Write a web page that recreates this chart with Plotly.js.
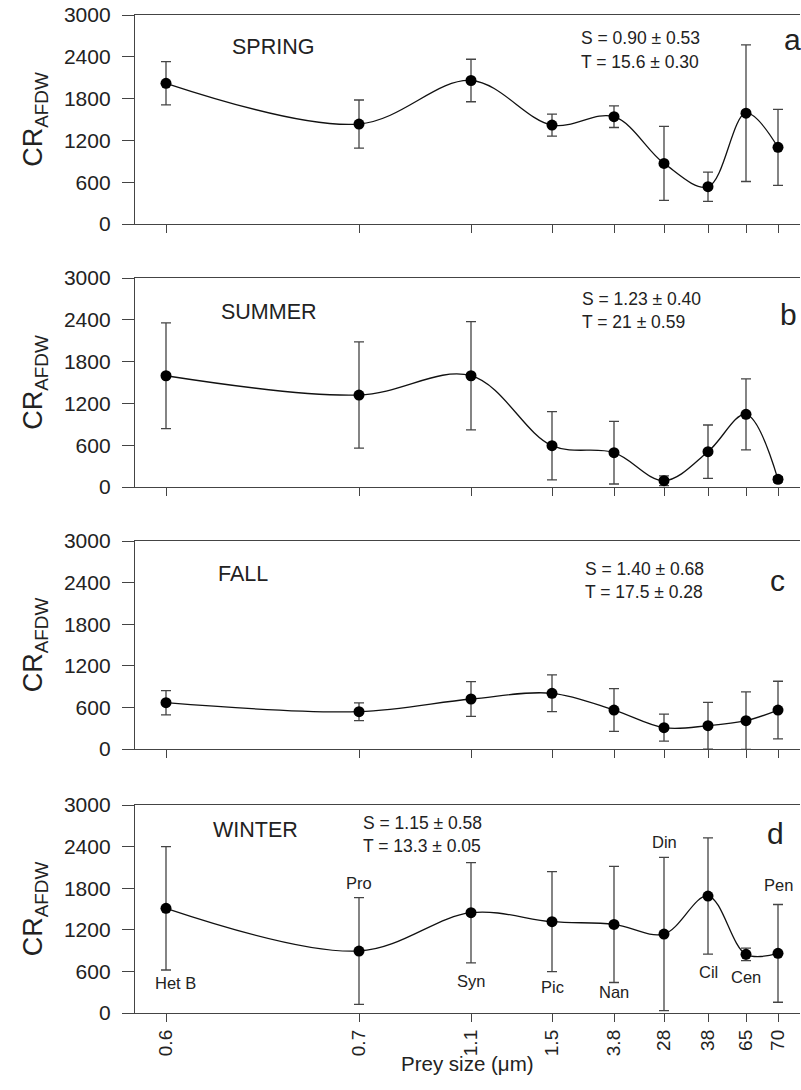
<!DOCTYPE html>
<html><head><meta charset="utf-8">
<script src="https://cdn.plot.ly/plotly-3.0.1.min.js"></script>
<style>html,body{margin:0;padding:0;background:#fff}#chart{width:801px;height:1090px}</style>
</head><body><div id="chart"></div>
<script>
// Prey size classes (irregularly spaced on the original axis)
const preySize = ['0.6','0.7','1.1','1.5','3.8','28','38','65','70'];
const xPos = [31,224,336,417,479,529,573,611,643];
const preyGroup = ['Het B','Pro','Syn','Pic','Nan','Din','Cil','Cen','Pen'];
const groupLabelY = [433,1875,461,375,303,2466,591,519,1846];
const groupLabelDx = [9,0,0,0,0,0,0,0,0];

const seasons = ['SPRING','SUMMER','FALL','WINTER'];
const panelLetter = ['a','b','c','d'];
const salinity = ['S = 0.90 ± 0.53','S = 1.23 ± 0.40','S = 1.40 ± 0.68','S = 1.15 ± 0.58'];
const temperature = ['T = 15.6 ± 0.30','T = 21 ± 0.59','T = 17.5 ± 0.28','T = 13.3 ± 0.05'];

const springCR = [2020,1435,2060,1420,1540,870,535,1590,1100];
const springSD = [310,345,305,158,155,530,210,980,545];
const summerCR = [1597,1320,1597,593,493,91,507,1043,110];
const summerSD = [758,763,777,490,450,70,383,510,40];
const fallCR = [668,538,721,803,562,308,336,408,562];
const fallSD = [175,128,250,265,308,195,337,415,415];
const winterCR = [1510,894,1447,1317,1278,1139,1687,846,860];
const winterSD = [890,770,723,721,838,1105,839,90,705];

const yTicks = [0,600,1200,1800,2400,3000];

const seriesCR = [springCR, summerCR, fallCR, winterCR];
const seriesSD = [springSD, summerSD, fallSD, winterSD];

// page geometry
const W = 801, H = 1090, L = 135, R = 1, T = 15, B = 77;
const plotW = W - L - R, plotH = H - T - B;
const px = x => (x - L) / plotW;
const py = y => (H - B - y) / plotH;
const panelPx = [[15,224],[278,487],[541,749],[805,1013]];

const font = '"Liberation Sans", Arial, sans-serif';
const ink = '#222';

const traces = seriesCR.map((cr, i) => ({
  type: 'scatter', mode: 'lines+markers',
  x: xPos, y: cr,
  xaxis: 'x' + (i ? i + 1 : ''), yaxis: 'y' + (i ? i + 1 : ''),
  line: {shape: 'spline', smoothing: 1, color: '#111', width: 1.3},
  marker: {color: '#000', size: 11},
  error_y: {type: 'data', array: seriesSD[i], visible: true, color: '#444', thickness: 1.3, width: 5},
  cliponaxis: false,
  hoverinfo: 'skip', showlegend: false
}));

const layout = {
  width: W, height: H,
  margin: {l: L, r: R, t: T, b: B},
  paper_bgcolor: '#fff', plot_bgcolor: '#fff',
  font: {family: font, color: ink},
  showlegend: false,
  annotations: []
};

for (let i = 0; i < 4; i++) {
  const s = i ? String(i + 1) : '';
  const last = i === 3;
  layout['xaxis' + s] = {
    domain: [0, 1], anchor: 'y' + s, range: [0, plotW],
    tickmode: 'array', tickvals: xPos, ticktext: preySize,
    showticklabels: last, tickangle: -90,
    ticks: 'outside', ticklen: 8, tickcolor: '#444', tickwidth: 1,
    tickfont: {size: 19, color: ink, family: font},
    showline: true, linecolor: '#444', linewidth: 1.2, mirror: true,
    showgrid: false, zeroline: false
  };
  layout['yaxis' + s] = {
    domain: [py(panelPx[i][1]), py(panelPx[i][0])], anchor: 'x' + s,
    range: [0, 3000], tickmode: 'array', tickvals: yTicks,
    ticks: 'outside', ticklen: 12, tickcolor: '#444', tickwidth: 1,
    ticklabelstandoff: 7,
    tickfont: {size: 21, color: ink, family: font},
    showline: true, linecolor: '#444', linewidth: 1.2,
    showgrid: false, zeroline: false,
    title: {text: 'CR<sub>AFDW</sub>', font: {size: 27, color: ink, family: font}, standoff: 13}
  };
}

const seasonX = [273,269,243,255], seasonY = [47,312,574,830];
const statX = [579,580,583,361], statSY = [38,299,569,823], statTY = [62,322,592,846];
const letterX = [792,788,777,775], letterY = [40,315,580,833];

for (let i = 0; i < 4; i++) {
  layout.annotations.push({xref:'paper', yref:'paper', x: px(seasonX[i]), y: py(seasonY[i]),
    text: seasons[i], showarrow:false, xanchor:'center', yanchor:'middle', font:{size:21.5, color:ink}});
  layout.annotations.push({xref:'paper', yref:'paper', x: px(statX[i]), y: py(statSY[i]),
    text: salinity[i], showarrow:false, xanchor:'left', yanchor:'middle', font:{size:17.5, color:ink}});
  layout.annotations.push({xref:'paper', yref:'paper', x: px(statX[i]), y: py(statTY[i]),
    text: temperature[i], showarrow:false, xanchor:'left', yanchor:'middle', font:{size:17.5, color:ink}});
  layout.annotations.push({xref:'paper', yref:'paper', x: px(letterX[i]), y: py(letterY[i]),
    text: panelLetter[i], showarrow:false, xanchor:'center', yanchor:'middle', font:{size:30, color:ink}});
}
preyGroup.forEach((g, j) => {
  layout.annotations.push({xref:'x4', yref:'y4', x: xPos[j] + groupLabelDx[j], y: groupLabelY[j],
    text: g, showarrow:false, xanchor:'center', yanchor:'middle', font:{size:16.5, color:ink}});
});
// x-axis title
layout.annotations.push({xref:'paper', yref:'paper', x: px(467), y: py(1063),
  text: 'Prey size (μm)', showarrow:false, xanchor:'center', yanchor:'middle', font:{size:20.5, color:ink}});

Plotly.newPlot('chart', traces, layout, {displayModeBar: false, staticPlot: true});
</script></body></html>
